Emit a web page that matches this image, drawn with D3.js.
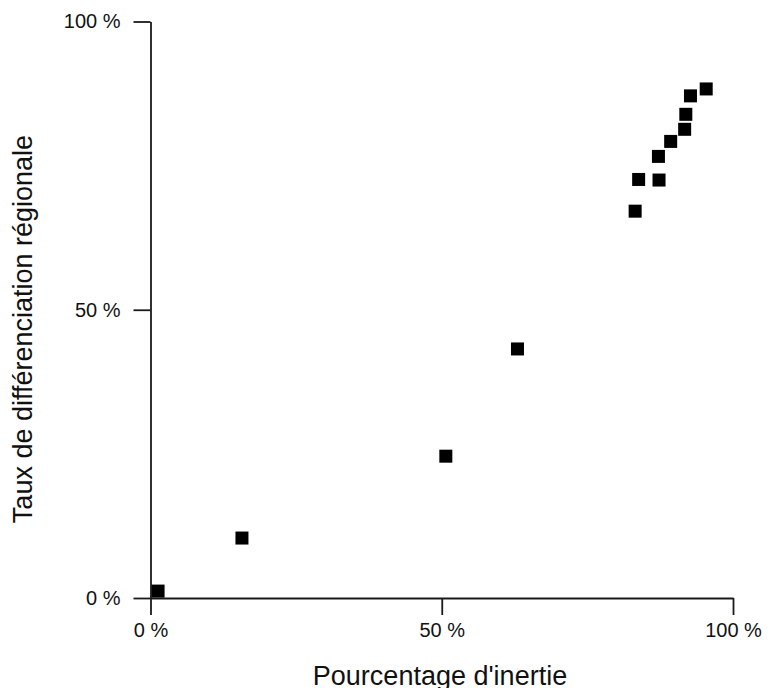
<!DOCTYPE html>
<html>
<head>
<meta charset="utf-8">
<script src="https://cdn.jsdelivr.net/npm/d3@7/dist/d3.min.js"></script>
<style>
  body { margin: 0; background: #fff; }
  svg text { font-family: "Liberation Sans", Arial, Helvetica, sans-serif; fill: #111; }
</style>
</head>
<body>
<script>
// pourcentage d'inertie (x) et taux de différenciation régionale (y), en %
var inertie = [1.3, 15.7, 50.7, 63.0, 83.2, 83.8, 87.3, 87.2, 89.3, 91.7, 91.9, 92.7, 95.4];
var differenciation = [1.2, 10.4, 24.6, 43.2, 67.1, 72.6, 72.5, 76.6, 79.2, 81.3, 83.9, 87.1, 88.3];
var tickValues = [0, 50, 100];
var xTitle = "Pourcentage d'inertie";
var yTitle = "Taux de différenciation régionale";

var width = 772;
var height = 688;

var x = d3.scaleLinear().domain([0, 100]).range([150.5, 733]);
var y = d3.scaleLinear().domain([0, 100]).range([598, 21.5]);

var svg = d3.select("body")
            .append("svg")
            .attr("width", width)
            .attr("height", height);

var fmt = function(d) { return d + " %"; };

var xAxis = svg.append("g")
               .attr("transform", "translate(0," + y(0) + ")")
               .call(d3.axisBottom(x).tickValues(tickValues).tickFormat(fmt)
                       .tickSize(17).tickSizeOuter(0).tickPadding(8));

var yAxis = svg.append("g")
               .attr("transform", "translate(" + x(0) + ",0)")
               .call(d3.axisLeft(y).tickValues(tickValues).tickFormat(fmt)
                       .tickSize(17).tickSizeOuter(0).tickPadding(13));

svg.selectAll(".domain, .tick line")
   .attr("stroke", "#1a1a1a")
   .attr("stroke-width", 1.8);

svg.selectAll(".tick text")
   .attr("font-size", 20)
   .attr("font-family", "'Liberation Sans', Arial, sans-serif")
   .attr("fill", "#111");

// squares
var size = 13;
svg.append("g")
   .selectAll("rect")
   .data(inertie)
   .enter()
   .append("rect")
   .attr("x", function(d) { return x(d) - size / 2; })
   .attr("y", function(d, i) { return y(differenciation[i]) - size / 2; })
   .attr("width", size)
   .attr("height", size)
   .attr("fill", "#000");

svg.append("text")
   .attr("x", 440)
   .attr("y", 685)
   .attr("text-anchor", "middle")
   .attr("font-size", 27)
   .text(xTitle);

svg.append("text")
   .attr("transform", "translate(32,329) rotate(-90)")
   .attr("text-anchor", "middle")
   .attr("font-size", 27)
   .text(yTitle);
</script>
</body>
</html>
